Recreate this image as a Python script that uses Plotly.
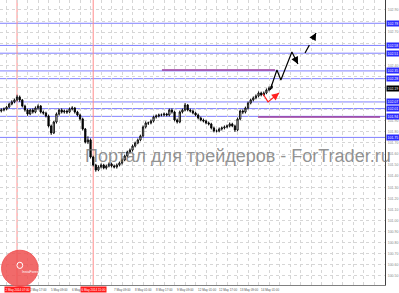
import plotly.graph_objects as go

# ---------------- data (H2 bars, USDJPY-like) ----------------
opens = [101.988, 101.997, 102.006, 102.024, 102.051, 102.070, 102.088, 102.115, 102.088, 102.033,
         101.997, 101.961, 101.997, 101.979, 102.015, 102.033, 101.979, 101.970, 101.943, 101.853,
         101.790, 101.889, 101.961, 101.997, 101.979, 101.988, 101.979, 102.006, 102.015, 101.979,
         101.952, 101.916, 101.826, 101.708, 101.727, 101.573, 101.501, 101.456, 101.483, 101.501,
         101.474, 101.492, 101.510, 101.492, 101.483, 101.501, 101.519, 101.546, 101.582, 101.618,
         101.636, 101.672, 101.699, 101.727, 101.763, 101.844, 101.880, 101.880, 101.898, 101.934,
         101.943, 101.952, 101.952, 101.961, 101.952, 101.997, 101.979, 101.907, 101.889, 101.979,
         101.997, 102.042, 101.997, 101.988, 101.970, 101.952, 101.925, 101.907, 101.898, 101.880,
         101.871, 101.835, 101.808, 101.808, 101.826, 101.835, 101.844, 101.853, 101.871, 101.853,
         101.817, 101.916, 101.988, 101.979, 102.015, 102.060, 102.088, 102.106, 102.124, 102.151,
         102.133, 102.151, 102.178, 102.196]
closes = [101.997, 102.006, 102.024, 102.051, 102.070, 102.088, 102.115, 102.088, 102.033, 101.997,
          101.961, 101.997, 101.979, 102.015, 102.033, 101.979, 101.970, 101.943, 101.853, 101.790,
          101.889, 101.961, 101.997, 101.979, 101.988, 101.979, 102.006, 102.015, 101.979, 101.952,
          101.916, 101.826, 101.708, 101.727, 101.573, 101.501, 101.456, 101.483, 101.501, 101.474,
          101.492, 101.510, 101.492, 101.483, 101.501, 101.519, 101.546, 101.582, 101.618, 101.636,
          101.672, 101.699, 101.727, 101.763, 101.844, 101.880, 101.880, 101.898, 101.934, 101.943,
          101.952, 101.952, 101.961, 101.952, 101.997, 101.979, 101.907, 101.889, 101.979, 101.997,
          102.042, 101.997, 101.988, 101.970, 101.952, 101.925, 101.907, 101.898, 101.880, 101.871,
          101.835, 101.808, 101.808, 101.826, 101.835, 101.844, 101.853, 101.871, 101.853, 101.817,
          101.916, 101.988, 101.979, 102.015, 102.060, 102.088, 102.106, 102.124, 102.151, 102.133,
          102.151, 102.178, 102.196, 102.214]
highs = [102.012, 102.020, 102.035, 102.063, 102.085, 102.100, 102.135, 102.128, 102.097, 102.045,
         102.010, 102.008, 102.012, 102.030, 102.048, 102.042, 101.993, 101.982, 101.955, 101.866,
         101.900, 101.975, 102.010, 102.012, 102.002, 102.000, 102.020, 102.032, 102.025, 101.990,
         101.965, 101.928, 101.835, 101.760, 101.740, 101.585, 101.512, 101.498, 101.515, 101.512,
         101.505, 101.524, 101.522, 101.505, 101.515, 101.532, 101.560, 101.595, 101.630, 101.650,
         101.685, 101.712, 101.740, 101.775, 101.858, 101.895, 101.892, 101.912, 101.946, 101.958,
         101.965, 101.966, 101.975, 101.972, 102.010, 102.012, 101.990, 101.920, 101.992, 102.010,
         102.060, 102.052, 102.010, 102.000, 101.982, 101.965, 101.938, 101.920, 101.910, 101.893,
         101.882, 101.848, 101.822, 101.840, 101.848, 101.858, 101.866, 101.885, 101.882, 101.865,
         101.930, 102.000, 102.002, 102.028, 102.073, 102.100, 102.120, 102.138, 102.165, 102.163,
         102.165, 102.192, 102.210, 102.228]
lows = [101.975, 101.985, 101.995, 102.012, 102.040, 102.058, 102.075, 102.070, 102.020, 101.982,
        101.945, 101.950, 101.965, 101.968, 102.000, 101.966, 101.955, 101.930, 101.840, 101.772,
        101.780, 101.875, 101.948, 101.966, 101.965, 101.962, 101.968, 101.993, 101.965, 101.940,
        101.902, 101.812, 101.695, 101.690, 101.560, 101.488, 101.440, 101.445, 101.470, 101.462,
        101.460, 101.480, 101.478, 101.470, 101.468, 101.488, 101.505, 101.535, 101.570, 101.605,
        101.622, 101.660, 101.688, 101.715, 101.750, 101.830, 101.862, 101.868, 101.885, 101.920,
        101.930, 101.940, 101.938, 101.940, 101.940, 101.965, 101.895, 101.875, 101.878, 101.966,
        101.985, 101.985, 101.975, 101.958, 101.940, 101.912, 101.895, 101.885, 101.868, 101.858,
        101.822, 101.795, 101.795, 101.796, 101.812, 101.822, 101.832, 101.840, 101.842, 101.800,
        101.805, 101.905, 101.960, 101.966, 102.002, 102.048, 102.075, 102.094, 102.112, 102.120,
        102.122, 102.140, 102.165, 102.185]
bars = list(range(len(closes)))

time_tick_idx = [10, 18, 26, 42, 50, 58, 66, 74, 82, 90, 98]
time_tick_labels = ["2 May 17:00", "5 May 09:00", "6 May 01:00",
                    "7 May 09:00", "8 May 01:00", "8 May 17:00", "9 May 09:00", "12 May 01:00",
                    "12 May 17:00", "13 May 09:00", "14 May 01:00"]
grid_idx = [-2, 2, 6, 10, 14, 18, 22, 26, 30, 34, 38, 42, 46, 50, 54, 58, 62, 66, 70, 74, 78, 82,
            86, 90, 94, 98, 102, 106, 110, 114, 118, 122, 126, 130, 134, 138, 142, 146]

marker_idx = [6, 35]
marker_labels = ["2 May 2014 07:00", "6 May 2014 11:00"]

price_grid = [102.9, 102.8, 102.7, 102.6, 102.5, 102.4, 102.3, 102.2, 102.1, 102.0, 101.9,
              101.8, 101.7, 101.6, 101.5, 101.4, 101.3, 101.2, 101.1, 101.0, 100.9, 100.8,
              100.7, 100.6, 100.5]
price_labels = ["102.90", "", "102.70", "", "", "102.40", "", "", "", "", "101.90",
                "101.80", "101.70", "101.60", "101.50", "101.40", "101.30", "101.20", "101.10",
                "101.00", "100.90", "100.80", "100.70", "100.60", "100.50"]

level_prices = [102.78, 102.58, 102.51, 102.35, 102.28, 102.07, 102.01, 101.94, 101.75]
last_price = 102.19

seg_x = [[61.2, 104.3], [97.8, 144.3]]
seg_y = [[102.358, 102.358], [101.934, 101.934]]

fc_x = [102.4, 105.0, 106.5, 110.7, 113.0]
fc_y = [102.178, 102.358, 102.268, 102.521, 102.412]
fc2_x = [115.7, 119.9]
fc2_y = [102.512, 102.692]
red_x = [99.7, 101.6, 105.8]
red_y = [102.142, 102.070, 102.150]

watermark = "Портал для трейдеров - ForTrader.ru"
watermark_price = 101.582

# ---------------- figure ----------------
fig = go.Figure()

fig.add_trace(go.Candlestick(
    x=bars, open=opens, high=highs, low=lows, close=closes,
    increasing=dict(line=dict(color="black", width=0.9), fillcolor="white"),
    decreasing=dict(line=dict(color="black", width=0.9), fillcolor="black"),
    whiskerwidth=0, showlegend=False, hoverinfo="skip"))

for sx, sy in zip(seg_x, seg_y):
    fig.add_trace(go.Scatter(x=sx, y=sy, mode="lines", line=dict(color="#9a3a9c", width=1.6),
                             showlegend=False, hoverinfo="skip"))

fig.add_trace(go.Scatter(x=fc_x, y=fc_y, mode="lines", line=dict(color="black", width=1.2),
                         showlegend=False, hoverinfo="skip"))
fig.add_trace(go.Scatter(x=fc2_x, y=fc2_y, mode="lines", line=dict(color="black", width=1.2, dash="dash"),
                         showlegend=False, hoverinfo="skip"))
fig.add_trace(go.Scatter(x=red_x, y=red_y, mode="lines", line=dict(color="#ff2020", width=1.2),
                         showlegend=False, hoverinfo="skip"))

annotations = []
# arrowheads
for xs, ys, col in [(fc_x, fc_y, "black"), (fc2_x, fc2_y, "black"), (red_x, red_y, "#ff2020")]:
    annotations.append(dict(x=xs[-1], y=ys[-1], ax=xs[-2] + (xs[-1] - xs[-2]) * 0.6,
                            ay=ys[-2] + (ys[-1] - ys[-2]) * 0.6, axref="x", ayref="y",
                            xref="x", yref="y", text="", showarrow=True, arrowhead=2,
                            arrowsize=1.2, arrowwidth=1.2, arrowcolor=col))

shapes = []
for p in level_prices:
    shapes.append(dict(type="line", xref="paper", x0=0, x1=1, yref="y", y0=p, y1=p,
                       line=dict(color="#8080ff", width=1), layer="below"))
for m in marker_idx:
    shapes.append(dict(type="line", xref="x", x0=m, x1=m, yref="paper", y0=0, y1=1,
                       line=dict(color="#ff8a8a", width=1), layer="below"))
# InstaForex badge
shapes.append(dict(type="circle", xref="paper", yref="paper", x0=0.004, x1=0.099, y0=-0.005, y1=0.122,
                   fillcolor="rgba(238,80,80,0.85)", line=dict(color="rgba(238,80,80,0.85)", width=1),
                   layer="above"))
shapes.append(dict(type="circle", xref="paper", yref="paper", x0=0.044, x1=0.059, y0=0.058, y1=0.080,
                   fillcolor="rgba(255,255,255,0)", line=dict(color="white", width=1), layer="above"))

annotations.append(dict(x=0.052, y=0.03, xref="paper", yref="paper", text="InstaForex",
                        showarrow=False, font=dict(size=3.5, color="white", family="Liberation Sans")))
# watermark
annotations.append(dict(x=0.2156, y=watermark_price, xref="paper", yref="y", xanchor="left",
                        yanchor="middle", text=watermark, showarrow=False,
                        font=dict(size=18, color="rgba(110,110,110,0.75)", family="Liberation Sans")))
# time labels
for i, t in zip(time_tick_idx, time_tick_labels):
    annotations.append(dict(x=i, y=0, xref="x", yref="paper", xanchor="left", yanchor="top", yshift=-1,
                            text=t, showarrow=False,
                            font=dict(size=3, color="#555555", family="Liberation Sans")))
for m, t in zip(marker_idx, marker_labels):
    annotations.append(dict(x=m, y=0, xref="x", yref="paper", xanchor="center", yanchor="top", yshift=-1,
                            text=t, showarrow=False, bgcolor="#ff1a1a", borderpad=0.5,
                            font=dict(size=3, color="white", family="Liberation Sans")))
# price level labels
for p in level_prices:
    annotations.append(dict(x=1, y=p, xref="paper", yref="y", xanchor="left", yanchor="middle", xshift=1,
                            text=f"{p:.2f}", showarrow=False, bgcolor="#2b2bff", borderpad=0.5,
                            font=dict(size=3.5, color="white", family="Liberation Sans")))
annotations.append(dict(x=1, y=last_price, xref="paper", yref="y", xanchor="left", yanchor="middle", xshift=1,
                        text=f"{last_price:.2f}", showarrow=False, bgcolor="black", borderpad=0.5,
                        font=dict(size=3.5, color="white", family="Liberation Sans")))

fig.update_layout(
    width=399, height=293,
    margin=dict(l=0, r=14, t=0, b=8),
    paper_bgcolor="white", plot_bgcolor="white",
    shapes=shapes, annotations=annotations,
    showlegend=False,
    xaxis=dict(range=[-0.5, 146.17], tickmode="array", tickvals=grid_idx, showticklabels=False,
               showgrid=True, gridcolor="#d6d6d6", griddash="dot", gridwidth=1,
               showline=True, linecolor="#808080", linewidth=1, zeroline=False,
               rangeslider=dict(visible=False), ticks=""),
    yaxis=dict(range=[100.418, 102.99], side="right", tickmode="array", tickvals=price_grid,
               ticktext=price_labels,
               tickfont=dict(size=3.5, color="#888888", family="Liberation Sans"),
               showgrid=True, gridcolor="#d6d6d6", griddash="dot", gridwidth=1,
               showline=True, linecolor="#404040", linewidth=1, zeroline=False, ticks="",
               ticklabelstandoff=1),
)

fig.write_html("out.html")
